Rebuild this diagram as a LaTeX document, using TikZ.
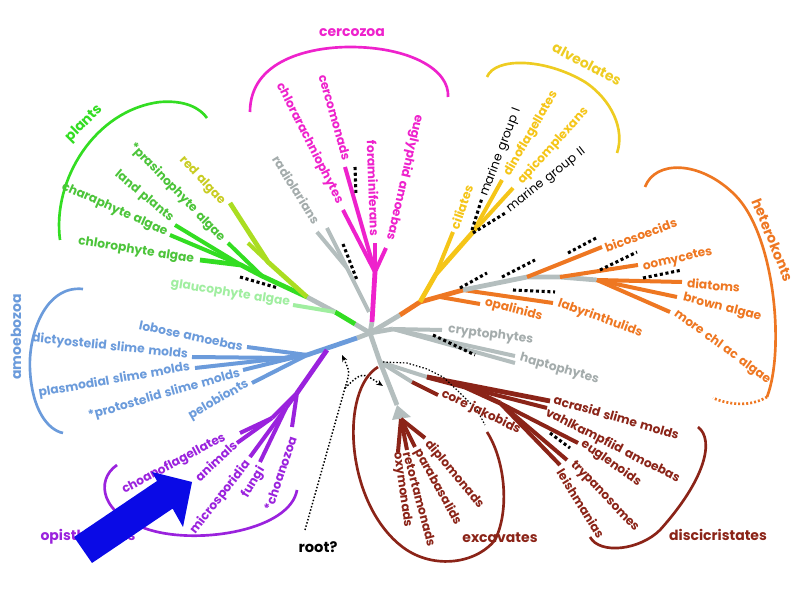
\documentclass[tikz,border=0pt]{standalone}
\usepackage{fontspec}
\setmainfont{Poppins}[WordSpace=1.4]
\usetikzlibrary{arrows.meta}
\definecolor{plantgreen}{HTML}{33DD22}
\definecolor{plantlab}{HTML}{4CC43A}
\definecolor{redalg}{HTML}{AADD22}
\definecolor{redlab}{HTML}{C8CC22}
\definecolor{glaucgreen}{HTML}{A0EEA0}
\definecolor{cercmag}{HTML}{EE22CC}
\definecolor{stemgray}{HTML}{B4BEBE}
\definecolor{graylab}{HTML}{A4ACAC}
\definecolor{alvyellow}{HTML}{F5C518}
\definecolor{alvbracket}{HTML}{EECC22}
\definecolor{hetorange}{HTML}{EE7722}
\definecolor{excbrown}{HTML}{8B2418}
\definecolor{amoblue}{HTML}{6B9BDB}
\definecolor{opipurple}{HTML}{9A22DD}
\definecolor{arrowblue}{HTML}{0A0AE6}
\tikzset{
  branch/.style={line width=3.6pt},
  twig/.style={line width=3pt},
  bracket/.style={line width=2pt},
  gapdots/.style={black,line width=2.3pt,dash pattern=on 2.3pt off 2pt},
  rootdots/.style={black,line width=1.1pt,dash pattern=on 1.1pt off 1.4pt},
  taxon/.style={font=\fontsize{9.2}{10}\selectfont\bfseries,inner sep=0pt},
  envlab/.style={font=\fontsize{9.2}{10}\selectfont,inner sep=0pt,text=black},
  grouplab/.style={font=\fontsize{10.5}{11}\selectfont\bfseries,inner sep=0pt}
}

\begin{document}
\begin{tikzpicture}[x=0.75pt,y=-0.75pt]
\useasboundingbox (0,0) rectangle (794,595);

% ---- hub and junctions
\coordinate (hub) at (370,333);
\coordinate (plA) at (355,324);
\coordinate (plB) at (335,312);
\coordinate (plR) at (307,297);
\coordinate (plG1) at (262,276);
\coordinate (plG2) at (241,265);
\coordinate (plRd) at (268,262);
\coordinate (ceA) at (372,322);
\coordinate (ceJ) at (375,272);
\coordinate (raB) at (369,312);
\coordinate (raJ) at (347,268);
\coordinate (hoA) at (400,315);
\coordinate (hoB) at (420,302);
\coordinate (alA) at (436,274);
\coordinate (alB) at (473,232);
\coordinate (heA) at (463,290);
\coordinate (heO) at (440,297);
\coordinate (heS) at (527,277);
\coordinate (heM) at (560,277);
\coordinate (heB) at (597,280);
\coordinate (crA) at (393,329);
\coordinate (exA) at (380,362);
\coordinate (exB) at (397,405);
\coordinate (exF) at (401,419);
\coordinate (jkA) at (412,382);
\coordinate (diJ) at (427,377);
\coordinate (diK) at (465,387);
\coordinate (diL) at (500,403);
\coordinate (amA) at (357,338);
\coordinate (amB) at (307,355);
\coordinate (amC) at (285,358);
\coordinate (amP) at (296,357);
\coordinate (opS) at (327,350);
\coordinate (opJ) at (297,393);
\coordinate (opK1) at (272,418);
\coordinate (opK2) at (286,408);

% ---- tips
\coordinate (tChloro) at (200,260);
\coordinate (tChara) at (170,235);
\coordinate (tLand) at (175,225);
\coordinate (tPras) at (228,243);
\coordinate (tRed1) at (230,203);
\coordinate (tRed2) at (248,243);
\coordinate (tGlauc) at (293,305);
\coordinate (tCerco) at (345,167);
\coordinate (tChlor) at (343,210);
\coordinate (tForam) at (375,243);
\coordinate (tEugly) at (386,248);
\coordinate (tRad1) at (317,232);
\coordinate (tRad2) at (327,228);
\coordinate (tCil) at (453,232);
\coordinate (tDino) at (502,180);
\coordinate (tApi) at (513,188);
\coordinate (tOpal) at (480,304);
\coordinate (tLaby) at (553,303);
\coordinate (tBico) at (602,247);
\coordinate (tOomy) at (638,265);
\coordinate (tDiat) at (682,282);
\coordinate (tBrown) at (677,297);
\coordinate (tMore) at (670,312);
\coordinate (tCrypt) at (442,330);
\coordinate (tHap1) at (515,356);
\coordinate (tHap2) at (515,363);
\coordinate (tJak) at (438,395);
\coordinate (tAcr) at (550,401);
\coordinate (tVahl) at (547,408);
\coordinate (tEugle) at (578,443);
\coordinate (tTryp) at (567,460);
\coordinate (tLeish) at (560,465);
\coordinate (tOxy) at (398,452);
\coordinate (tRetor) at (407,450);
\coordinate (tPara) at (415,447);
\coordinate (tDiplo) at (425,438);
\coordinate (tLob) at (247,347);
\coordinate (tDict) at (192,357);
\coordinate (tPlas) at (195,368);
\coordinate (tProto) at (243,370);
\coordinate (tPelo) at (252,383);
\coordinate (tChoan) at (240,433);
\coordinate (tAnim) at (237,443);
\coordinate (tMicro) at (250,457);
\coordinate (tFungi) at (260,462);
\coordinate (tChz) at (292,427);

% ---- plants
\draw[branch,stemgray] (hub) -- (plA);
\draw[branch,plantgreen] (plA) -- (plB);
\draw[branch,stemgray] (plB) -- (plR);
\draw[twig,glaucgreen] (plB) -- (tGlauc);
\draw[branch,plantgreen] (plR) -- (plG1) -- (plG2) -- (tChloro);
\foreach \t in {tChara,tLand} \draw[twig,plantgreen] (plG2) -- (\t);
\draw[twig,plantgreen] (plG1) -- (tPras);
\draw[branch,redalg] (plR) -- (plRd) -- (tRed1);
\draw[twig,redalg] (plRd) -- (tRed2);

% ---- cercozoa and radiolarians
\draw[branch,stemgray] (hub) -- (ceA);
\draw[branch,cercmag] (ceA) -- (ceJ);
\foreach \t in {tCerco,tChlor,tForam,tEugly} \draw[twig,cercmag] (ceJ) -- (\t);
\draw[twig,stemgray] (raB) -- (raJ);
\foreach \t in {tRad1,tRad2} \draw[twig,stemgray] (raJ) -- (\t);

% ---- alveolates and heterokonts
\draw[branch,stemgray] (hub) -- (hoA);
\draw[branch,hetorange] (hoA) -- (hoB) -- (heA);
\draw[branch,alvyellow] (hoB) -- (alA) -- (alB);
\draw[twig,alvyellow] (alA) -- (tCil);
\foreach \t in {tDino,tApi} \draw[twig,alvyellow] (alB) -- (\t);
\draw[twig,hetorange] (heO) -- (tOpal);
\draw[twig,hetorange] (heA) -- (tLaby);
\draw[branch,stemgray] (heA) -- (heS) -- (heM) -- (heB);
\draw[twig,hetorange] (heS) -- (tBico);
\draw[twig,hetorange] (heM) -- (tOomy);
\foreach \t in {tDiat,tBrown,tMore} \draw[twig,hetorange] (heB) -- (\t);

% ---- cryptophytes, haptophytes
\draw[branch,stemgray] (hub) -- (crA);
\draw[twig,stemgray] (crA) -- (tCrypt);
\foreach \t in {tHap1,tHap2} \draw[twig,stemgray] (crA) -- (\t);

% ---- excavates
\draw[branch,stemgray] (hub) -- (exA) -- (exB);
\fill[stemgray] (exB) -- (392,420) -- (411,417) -- cycle;
\foreach \t in {tOxy,tRetor,tPara,tDiplo} \draw[twig,excbrown] (exF) -- (\t);
\draw[twig,stemgray] (exA) -- (jkA);
\draw[twig,excbrown] (jkA) -- (tJak);
\draw[twig,stemgray] (exA) -- (diJ);
\draw[branch,excbrown] (diJ) -- (tAcr);
\draw[branch,excbrown] (diJ) -- (diK) -- (diL);
\draw[twig,excbrown] (diK) -- (tVahl);
\foreach \t in {tEugle,tTryp,tLeish} \draw[twig,excbrown] (diL) -- (\t);

% ---- amoebozoa and opisthokonts
\draw[branch,stemgray] (hub) -- (amA);
\draw[branch,amoblue] (amA) -- (amB) -- (amC);
\draw[twig,amoblue] (amB) -- (tLob);
\foreach \t in {tDict,tPlas} \draw[twig,amoblue] (amC) -- (\t);
\draw[twig,amoblue] (amP) -- (tProto);
\draw[twig,amoblue] (amB) -- (tPelo);
\draw[branch,opipurple] (opS) -- (opJ);
\draw[twig,opipurple] (opJ) -- (opK1);
\foreach \t in {tChoan,tAnim} \draw[twig,opipurple] (opK1) -- (\t);
\draw[twig,opipurple] (opJ) -- (opK2);
\foreach \t in {tMicro,tFungi} \draw[twig,opipurple] (opK2) -- (\t);
\draw[twig,opipurple] (opJ) -- (tChz);

% ---- environmental lineages
\foreach \xa/\ya/\xb/\yb in {240/277/278/288, 355/167/356/195, 343/244/357/280,
    472/230/482/198, 473/233/507/212, 460/288/487/273, 502/277/535/260,
    568/253/598/237, 600/270/637/252, 643/278/682/270, 513/290/555/292,
    433/335/475/355, 550/433/570/448}
  \draw[gapdots] (\xa,\ya) -- (\xb,\yb);

% ---- root
\coordinate (rootS) at (305,530);
\coordinate (rootK) at (345,388);
\coordinate (rootU) at (342,355);
\coordinate (rootE) at (383,386);
\draw[rootdots,-{Stealth[length=5pt,width=4pt]}] (rootS) -- (rootK) .. controls (350,372) .. (rootU);
\draw[rootdots,-{Stealth[length=5pt,width=4pt]}] (rootK) .. controls (362,372) .. (rootE);
\draw[rootdots,line width=0.9pt] (383,362) -- (407,363) -- (427,369) -- (443,377) -- (457,390) -- (477,410) -- (485,425);

% ---- brackets
\draw[bracket,plantgreen] (60,240) .. controls (52,180) and (95,110) .. (160,102) .. controls (185,100) and (200,108) .. (207,118);
\draw[bracket,cercmag] (250,112) .. controls (250,60) and (310,47) .. (350,47) .. controls (410,47) and (450,70) .. (448,97);
\draw[bracket,alvbracket] (487,77) .. controls (495,57) and (545,58) .. (585,82) .. controls (612,100) and (625,130) .. (617,153);
\draw[bracket,hetorange] (645,187) .. controls (655,160) and (700,160) .. (735,195) .. controls (775,235) and (785,350) .. (767,397);
\draw[bracket,hetorange,dash pattern=on 1.5pt off 1.5pt] (767,397) .. controls (750,407) and (730,405) .. (713,398);
\draw[bracket,amoblue] (83,289) .. controls (45,285) and (28,335) .. (30,370) .. controls (32,410) and (48,430) .. (63,433);
\draw[bracket,opipurple] (117,465) .. controls (95,480) and (100,515) .. (150,530) .. controls (200,545) and (290,530) .. (297,490);
\draw[bracket,excbrown] (378,367) .. controls (340,390) and (345,500) .. (400,545) .. controls (430,570) and (475,565) .. (495,540) .. controls (510,510) and (505,460) .. (487,432);
\draw[bracket,excbrown] (698,427) .. controls (715,440) and (705,480) .. (660,530) .. controls (640,550) and (600,555) .. (590,537);

% ---- taxon labels
\node[taxon,text=plantlab,anchor=east,rotate=-9] (lChloro) at (194,260) {chlorophyte algae};
\node[taxon,text=plantlab,anchor=east,rotate=-24] (lChara) at (167,233) {charaphyte algae};
\node[taxon,text=plantlab,anchor=east,rotate=-40] (lLand) at (172,220) {land plants};
\node[taxon,text=plantlab,anchor=east,rotate=-46] (lPras) at (223,240) {*prasinophyte algae};
\node[taxon,text=redlab,anchor=east,rotate=-47] (lRed) at (223,203) {red algae};
\node[taxon,text=glaucgreen,anchor=east,rotate=-9] (lGlauc) at (290,303) {glaucophyte algae};
\node[taxon,text=graylab,anchor=east,rotate=-58] (lRad) at (317,223) {radiolarians};
\node[taxon,text=cercmag,anchor=east,rotate=-63] (lChlor) at (340,203) {chlorarachniophytes};
\node[taxon,text=cercmag,anchor=east,rotate=-74] (lCerco) at (347,160) {cercomonads};
\node[taxon,text=cercmag,anchor=east,rotate=-88] (lForam) at (375,236) {foraminiferans};
\node[taxon,text=cercmag,anchor=east,rotate=-103] (lEugly) at (390,240) {euglyphid amoebas};
\node[taxon,text=alvyellow,anchor=west,rotate=71] (lCil) at (454,229) {ciliates};
\node[envlab,anchor=west,rotate=69] (lMar1) at (484,196) {marine group I};
\node[taxon,text=alvyellow,anchor=west,rotate=60] (lDino) at (507,175) {dinoflagellates};
\node[taxon,text=alvyellow,anchor=west,rotate=48] (lApi) at (520,183) {apicomplexans};
\node[envlab,anchor=west,rotate=38] (lMar2) at (508,210) {marine group II};
\node[taxon,text=hetorange,anchor=west,rotate=20] (lBico) at (605,248) {bicosoecids};
\node[taxon,text=hetorange,anchor=west,rotate=13] (lOomy) at (643,268) {oomycetes};
\node[taxon,text=hetorange,anchor=west,rotate=-5] (lDiat) at (687,283) {diatoms};
\node[taxon,text=hetorange,anchor=west,rotate=-14] (lBrown) at (683,298) {brown algae};
\node[taxon,text=hetorange,anchor=west,rotate=-36] (lMore) at (675,313) {more chl ac algae};
\node[taxon,text=hetorange,anchor=west,rotate=-15] (lOpal) at (485,302) {opalinids};
\node[taxon,text=hetorange,anchor=west,rotate=-20] (lLaby) at (558,303) {labyrinthulids};
\node[taxon,text=graylab,anchor=west,rotate=-7] (lCrypt) at (448,330) {cryptophytes};
\node[taxon,text=graylab,anchor=west,rotate=-16] (lHap) at (520,358) {haptophytes};
\node[taxon,text=excbrown,anchor=west,rotate=-16] (lAcr) at (554,399) {acrasid slime molds};
\node[taxon,text=excbrown,anchor=west,rotate=-27] (lVahl) at (546,412) {vahlkampfiid amoebas};
\node[taxon,text=excbrown,anchor=west,rotate=-35] (lEugle) at (582,443) {euglenoids};
\node[taxon,text=excbrown,anchor=west,rotate=-46] (lTryp) at (572,463) {trypanosomes};
\node[taxon,text=excbrown,anchor=west,rotate=-58] (lLeish) at (560,470) {leishmanias};
\node[taxon,text=excbrown,anchor=west,rotate=-26] (lJak) at (442,393) {core jakobids};
\node[taxon,text=excbrown,anchor=west,rotate=-50] (lDiplo) at (427,442) {diplomonads};
\node[taxon,text=excbrown,anchor=west,rotate=-61] (lPara) at (417,450) {parabasalids};
\node[taxon,text=excbrown,anchor=west,rotate=-75] (lRetor) at (407,452) {retortamonads};
\node[taxon,text=excbrown,anchor=west,rotate=-82] (lOxy) at (397,452) {oxymonads};
\node[taxon,text=amoblue,anchor=east,rotate=-12] (lLob) at (243,347) {lobose amoebas};
\node[taxon,text=amoblue,anchor=east,rotate=-6] (lDict) at (188,355) {dictyostelid slime molds};
\node[taxon,text=amoblue,anchor=east,rotate=10] (lPlas) at (190,367) {plasmodial slime molds};
\node[taxon,text=amoblue,anchor=east,rotate=16] (lProto) at (240,373) {*protostelid slime molds};
\node[taxon,text=amoblue,anchor=east,rotate=30] (lPelo) at (248,383) {pelobionts};
\node[taxon,text=opipurple,anchor=east,rotate=28] (lChoan) at (225,437) {choanoflagellates};
\node[taxon,text=opipurple,anchor=east,rotate=43] (lAnim) at (235,443) {animals};
\node[taxon,text=opipurple,anchor=east,rotate=52] (lMicro) at (248,462) {microsporidia};
\node[taxon,text=opipurple,anchor=east,rotate=59] (lFungi) at (262,468) {fungi};
\node[taxon,text=opipurple,anchor=east,rotate=71] (lChz) at (293,437) {*choanozoa};

% ---- group labels
\node[grouplab,text=plantgreen,rotate=45] (gPlants) at (84,124) {plants};
\node[grouplab,text=cercmag] (gCerco) at (352,33) {cercozoa};
\node[grouplab,text=alvbracket,rotate=-28] (gAlv) at (587,64) {alveolates};
\node[grouplab,text=hetorange,rotate=-68] (gHet) at (773,240) {heterokonts};
\node[grouplab,text=amoblue,rotate=90] (gAmo) at (16,337) {amoebozoa};
\node[grouplab,text=opipurple] (gOpi) at (88,537) {opisthokonts};
\node[grouplab,text=excbrown] (gExc) at (500,538) {excavates};
\node[grouplab,text=excbrown] (gDisc) at (718,535) {discicristates};
\node[grouplab,text=black,font=\fontsize{11}{12}\selectfont\bfseries] (gRoot) at (318,547) {root?};

% ---- pointer arrow
\fill[arrowblue] (92,563) -- (74,537) -- (157,481) -- (152,472) -- (192,482) -- (183,527) -- (172.6,508.6) -- cycle;
\end{tikzpicture}
\end{document}
